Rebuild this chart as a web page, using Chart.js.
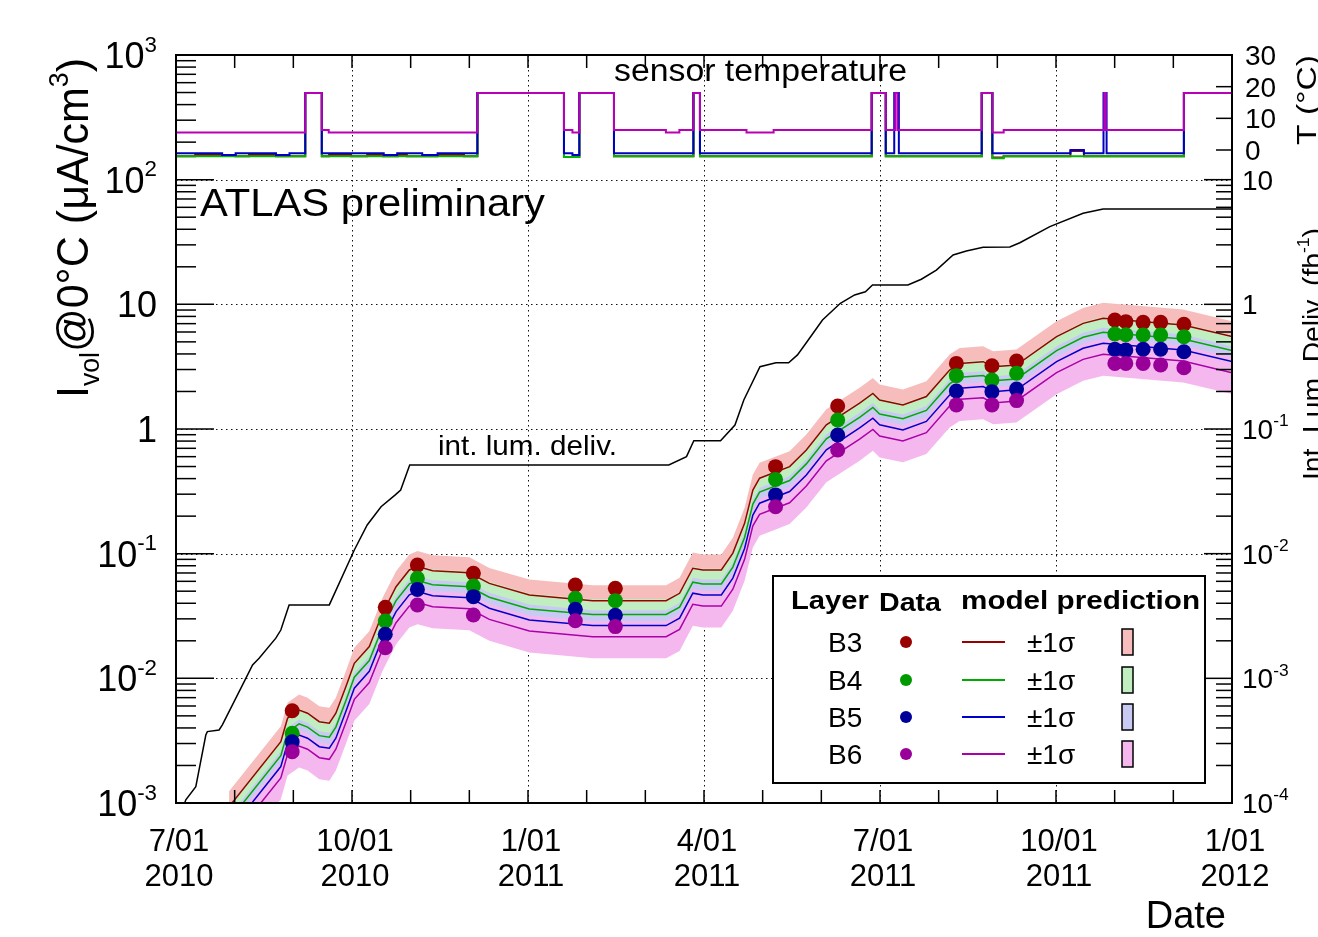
<!DOCTYPE html>
<html><head><meta charset="utf-8">
<script src="https://cdn.jsdelivr.net/npm/chart.js"></script>
<style>html,body{margin:0;padding:0;background:#fff;overflow:hidden}canvas{display:block}</style>
</head><body>
<canvas id="c" width="1318" height="937"></canvas>
<script>
// ---------------- data ----------------
// x values are days since 1 July 2010
const xMajorDays = [0, 91.5, 183, 274.5, 366, 457.5, 549];
const xTickLabels = [['7/01','2010'],['10/01','2010'],['1/01','2011'],['4/01','2011'],['7/01','2011'],['10/01','2011'],['1/01','2012']];
const layerNames = ['B3','B4','B5','B6'];

const modelDays = [27.6,54.5,58,64,68.4,74.5,79.7,83.1,88.3,92.7,100.5,107.4,114.4,121.3,125.6,133.4,152.5,162.9,183.7,216.6,254.8,261.8,268.7,273.9,283.5,289.5,295.6,299.9,303.4,319,327.7,338.1,355.4,362.3,365.8,377.9,390.1,402.2,407.4,419.6,424.8,436.9,457.8,471.6,482,523.6,549];
const modelB3 = [9.35e-4,3.10e-3,4.79e-3,5.57e-3,5.25e-3,4.49e-3,4.36e-3,5.25e-3,8.57e-3,0.0132,0.0180,0.0333,0.0543,0.0740,0.0787,0.0729,0.0703,0.0578,0.0466,0.0420,0.0420,0.0481,0.0764,0.0740,0.0740,0.101,0.175,0.324,0.403,0.499,0.679,1.08,1.61,1.93,1.71,1.56,1.82,2.97,3.36,3.47,3.16,3.26,5.50,7.04,7.73,6.82,5.51];
const modelB4 = [7.23e-4,2.40e-3,3.70e-3,4.31e-3,4.06e-3,3.47e-3,3.37e-3,4.06e-3,6.62e-3,0.0102,0.0139,0.0257,0.0420,0.0572,0.0608,0.0564,0.0543,0.0447,0.0360,0.0325,0.0325,0.0372,0.0591,0.0572,0.0572,0.0781,0.135,0.250,0.312,0.386,0.525,0.835,1.24,1.49,1.32,1.21,1.41,2.30,2.60,2.68,2.44,2.52,4.25,5.44,5.98,5.27,4.26];
const modelB5 = [5.90e-4,1.96e-3,3.02e-3,3.51e-3,3.31e-3,2.83e-3,2.75e-3,3.31e-3,5.41e-3,8.33e-3,0.0114,0.0210,0.0343,0.0467,0.0497,0.0460,0.0444,0.0365,0.0294,0.0265,0.0265,0.0304,0.0482,0.0467,0.0467,0.0637,0.110,0.204,0.254,0.315,0.428,0.681,1.02,1.22,1.08,0.984,1.15,1.87,2.12,2.19,1.99,2.06,3.47,4.44,4.88,4.30,3.48];
const modelB6 = [4.81e-4,1.59e-3,2.46e-3,2.86e-3,2.70e-3,2.31e-3,2.24e-3,2.70e-3,4.40e-3,6.78e-3,9.25e-3,0.0171,0.0279,0.0380,0.0405,0.0375,0.0361,0.0297,0.0240,0.0216,0.0216,0.0247,0.0393,0.0380,0.0380,0.0519,0.0900,0.167,0.207,0.256,0.349,0.555,0.828,0.992,0.879,0.802,0.935,1.53,1.73,1.78,1.62,1.68,2.83,3.62,3.97,3.51,2.83];

const bandB3Up = [1.24e-3,4.12e-3,6.37e-3,7.41e-3,6.98e-3,5.97e-3,5.80e-3,6.98e-3,0.0114,0.0176,0.0239,0.0443,0.0722,0.0984,0.105,0.0970,0.0935,0.0769,0.0620,0.0559,0.0559,0.0640,0.102,0.0984,0.0984,0.134,0.233,0.431,0.536,0.664,0.903,1.44,2.14,2.57,2.27,2.07,2.42,3.95,4.47,4.62,4.20,4.34,7.32,9.36,10.3,9.07,7.33];
const bandB3Lo = [6.29e-4,2.09e-3,3.22e-3,3.75e-3,3.53e-3,3.02e-3,2.93e-3,3.53e-3,5.77e-3,8.88e-3,0.0121,0.0224,0.0365,0.0498,0.0530,0.0491,0.0473,0.0389,0.0314,0.0283,0.0283,0.0324,0.0514,0.0498,0.0498,0.0680,0.118,0.218,0.271,0.336,0.457,0.727,1.08,1.30,1.15,1.05,1.22,2.00,2.26,2.34,2.13,2.19,3.70,4.74,5.20,4.59,3.71];
const bandB4Up = [9.61e-4,3.19e-3,4.92e-3,5.73e-3,5.40e-3,4.62e-3,4.48e-3,5.40e-3,8.81e-3,0.0136,0.0185,0.0342,0.0558,0.0761,0.0809,0.0749,0.0723,0.0594,0.0479,0.0432,0.0432,0.0494,0.0785,0.0761,0.0761,0.104,0.180,0.333,0.414,0.513,0.698,1.11,1.66,1.98,1.76,1.60,1.87,3.05,3.45,3.57,3.25,3.35,5.65,7.24,7.95,7.01,5.66];
const bandB4Lo = [4.86e-4,1.61e-3,2.49e-3,2.90e-3,2.73e-3,2.33e-3,2.27e-3,2.73e-3,4.46e-3,6.86e-3,9.36e-3,0.0173,0.0282,0.0385,0.0409,0.0379,0.0366,0.0301,0.0242,0.0218,0.0218,0.0250,0.0397,0.0385,0.0385,0.0525,0.0910,0.168,0.210,0.259,0.353,0.562,0.837,1.00,0.889,0.811,0.946,1.54,1.75,1.80,1.64,1.70,2.86,3.66,4.02,3.55,2.87];
const bandB5Up = [7.84e-4,2.60e-3,4.02e-3,4.67e-3,4.40e-3,3.77e-3,3.66e-3,4.40e-3,7.19e-3,0.0111,0.0151,0.0279,0.0456,0.0621,0.0660,0.0612,0.0590,0.0485,0.0391,0.0352,0.0352,0.0404,0.0641,0.0621,0.0621,0.0847,0.147,0.272,0.338,0.419,0.570,0.906,1.35,1.62,1.43,1.31,1.53,2.49,2.82,2.91,2.65,2.74,4.61,5.91,6.49,5.72,4.62];
const bandB5Lo = [3.97e-4,1.32e-3,2.04e-3,2.37e-3,2.23e-3,1.91e-3,1.85e-3,2.23e-3,3.64e-3,5.61e-3,7.65e-3,0.0142,0.0231,0.0315,0.0334,0.0310,0.0299,0.0246,0.0198,0.0179,0.0179,0.0204,0.0325,0.0315,0.0315,0.0429,0.0744,0.138,0.171,0.212,0.289,0.459,0.684,0.820,0.727,0.663,0.774,1.26,1.43,1.47,1.34,1.39,2.34,2.99,3.29,2.90,2.34];
const bandB6Up = [6.40e-4,2.12e-3,3.28e-3,3.81e-3,3.59e-3,3.07e-3,2.98e-3,3.59e-3,5.86e-3,9.03e-3,0.0123,0.0228,0.0371,0.0506,0.0538,0.0499,0.0481,0.0395,0.0319,0.0287,0.0287,0.0329,0.0523,0.0506,0.0506,0.0691,0.120,0.222,0.276,0.341,0.464,0.739,1.10,1.32,1.17,1.07,1.24,2.03,2.30,2.37,2.16,2.23,3.76,4.82,5.29,4.66,3.77];
const bandB6Lo = [3.24e-4,1.07e-3,1.66e-3,1.93e-3,1.82e-3,1.55e-3,1.51e-3,1.82e-3,2.97e-3,4.57e-3,6.23e-3,0.0115,0.0188,0.0256,0.0272,0.0252,0.0243,0.0200,0.0161,0.0145,0.0145,0.0166,0.0264,0.0256,0.0256,0.0349,0.0606,0.112,0.139,0.173,0.235,0.374,0.557,0.668,0.592,0.540,0.630,1.03,1.16,1.20,1.09,1.13,1.90,2.44,2.67,2.36,1.91];

const dataDays = [60.4,108.8,125.5,154.6,207.6,228.4,311.7,344,405.7,424.2,437,488.1,493.8,502.8,511.9,524];
const dataB3 = [5.5e-3,0.0371,0.081,0.0695,0.0561,0.0527,0.499,1.53,3.36,3.22,3.51,7.49,7.26,7.17,7.17,6.92];
const dataB4 = [3.62e-3,0.0288,0.0634,0.0551,0.0439,0.042,0.394,1.18,2.68,2.47,2.80,5.78,5.70,5.67,5.67,5.50];
const dataB5 = [3.10e-3,0.0226,0.0517,0.0452,0.0358,0.032,0.296,0.895,2.02,1.99,2.09,4.36,4.30,4.36,4.36,4.17];
const dataB6 = [2.58e-3,0.0176,0.0387,0.0322,0.029,0.026,0.238,0.679,1.56,1.56,1.69,3.36,3.36,3.36,3.26,3.10];

// integrated delivered luminosity (fb^-1), right axis
const lumDays = [3.2,5.1,10.3,15.5,16.3,22.4,24.1,36.3,39.8,43.2,51.9,54.5,58.8,79.7,92.7,99.4,106.6,114,116.8,121.5,256.2,265.4,269.2,283.1,290.6,295.2,303.6,311.9,318.5,323.1,328.7,336.1,345.4,352.8,358.4,362.1,380.5,387.5,395.3,404,410.9,419.6,433.5,438.7,454.3,471.6,482,549];
const lumValues = [8.8e-5,1.06e-4,1.35e-4,3.51e-4,3.74e-4,3.85e-4,4.23e-4,1.0e-3,1.28e-3,1.45e-3,2.10e-3,2.44e-3,3.88e-3,3.88e-3,0.0107,0.0170,0.0238,0.0296,0.0324,0.0514,0.0514,0.0600,0.0805,0.0805,0.1076,0.171,0.316,0.340,0.340,0.393,0.518,0.748,1.02,1.19,1.26,1.43,1.43,1.59,1.88,2.49,2.68,2.87,2.88,3.12,4.20,5.37,5.82,5.82];

// sensor temperature (deg C), step values
const tempB3Days = [0,10,31,38,52,67.2,75.8,79.6,91,99.4,107.7,115.3,120,135.8,149.7,156.7,201.7,209.7,227.7,269,272.4,361.7,369,418.9,424.4,430.3,465,472,524,549];
const tempB3 = [-2.0,-1.6,-2.0,-1.6,-2.0,18,-2.0,-1.6,-2.0,-1.6,-2.0,-1.6,-2.0,-1.6,-2.0,18,-2.2,18,-2.0,18,-2.0,18,-2.0,18,-2.4,-2.0,-0.3,-2.0,18,18];
const tempB4Days = [0,67.2,75.8,156.7,201.7,209.7,227.7,269,272.4,361.7,369,418.9,424.4,430.3,524,549];
const tempB4 = [-2.0,18,-2.0,18,-2.2,18,-2.0,18,-2.0,18,-2.0,18,-2.6,-2.0,18,18];
const tempB5Days = [0,24,31,52,59,67.2,75.8,108,115,128,136,156.7,201.7,206.1,209.7,227.7,269,272.4,361.7,369,373.4,375.8,418.9,424.4,465,472,482.2,483.8,524,549];
const tempB5 = [-1.0,-1.6,-1.0,-1.6,-1.0,18,-1.0,-1.6,-1.0,-1.6,-1.0,18,-1.0,-1.6,18,-1.0,18,-1.0,18,-1.0,18,-1.0,18,-1.0,0,-1.0,18,-1.0,18,18];
const tempB6Days = [0,67.2,75.8,79.4,156.7,201.7,206.1,209.7,227.7,254.7,261.7,269,272.4,296.6,310.7,361.7,369,373.9,375.1,418.9,424.4,430.3,482.6,483.4,524,549];
const tempB6 = [5.5,18,6.3,5.5,18,6.3,5.5,18,6.3,5.5,6.3,18,6.3,5.5,6.3,18,6.3,18,6.3,18,5.5,6.3,18,6.3,18,18];

// ---------------- styling ----------------
const FONT = '"Liberation Sans", Arial, Helvetica, sans-serif';
const style = {
  B3: { line:'#990000', dot:'#990000', band:'#f7bdbd', temp:'#990000' },
  B4: { line:'#00aa00', dot:'#009a00', band:'#c0eec0', temp:'#00b400' },
  B5: { line:'#0000cc', dot:'#000099', band:'#c9caf4', temp:'#0000c0' },
  B6: { line:'#aa00aa', dot:'#990099', band:'#f5b8ee', temp:'#b800b8' }
};
const pts = (xs, ys) => xs.map((x, i) => ({ x: x, y: ys[i] }));
const series = {
  B3: { model: modelB3, up: bandB3Up, lo: bandB3Lo, data: dataB3, td: tempB3Days, t: tempB3 },
  B4: { model: modelB4, up: bandB4Up, lo: bandB4Lo, data: dataB4, td: tempB4Days, t: tempB4 },
  B5: { model: modelB5, up: bandB5Up, lo: bandB5Lo, data: dataB5, td: tempB5Days, t: tempB5 },
  B6: { model: modelB6, up: bandB6Up, lo: bandB6Lo, data: dataB6, td: tempB6Days, t: tempB6 }
};
const none = 'rgba(0,0,0,0)';
const datasets = [];
layerNames.forEach((n, k) => {
  const s = series[n], c = style[n];
  datasets.push({ label: n + ' +1σ', data: pts(modelDays, s.up), yAxisID: 'y', fill: '+1', backgroundColor: c.band, borderColor: none, borderWidth: 1, pointRadius: 0, order: 100 - 2 * k });
  datasets.push({ label: n + ' -1σ', data: pts(modelDays, s.lo), yAxisID: 'y', fill: false, borderColor: none, borderWidth: 1, pointRadius: 0, order: 100 - 2 * k });
});
layerNames.forEach((n, k) => {
  datasets.push({ label: n + ' model', data: pts(modelDays, series[n].model), yAxisID: 'y', fill: false, borderColor: style[n].line, borderWidth: 1.5, pointRadius: 0, order: 60 - k });
});
datasets.push({ label: 'int. lum. deliv.', data: pts(lumDays, lumValues), yAxisID: 'yLum', fill: false, borderColor: '#000', borderWidth: 1.5, pointRadius: 0, order: 50 });
layerNames.forEach((n, k) => {
  datasets.push({ label: n + ' data', data: pts(dataDays, series[n].data), yAxisID: 'y', showLine: false, pointRadius: 7.5, pointBackgroundColor: style[n].dot, pointBorderWidth: 0, order: 40 - k });
});
layerNames.forEach((n, k) => {
  datasets.push({ label: n + ' T', data: pts(series[n].td, series[n].t), yAxisID: 'yT', stepped: true, fill: false, borderColor: style[n].temp, borderWidth: 2, pointRadius: 0, order: 30 - k });
});

// ---------------- text helpers ----------------
function rich(ctx, segs, x, y, size, o) {
  o = o || {};
  ctx.save();
  ctx.translate(x, y);
  if (o.rot) ctx.rotate(o.rot);
  const b = o.bold ? 'bold ' : '';
  let total = 0;
  const ws = segs.map(s => { ctx.font = b + (size * (s.s || 1)).toFixed(1) + 'px ' + FONT; const w = ctx.measureText(s.t).width; total += w; return w; });
  const sx = o.width ? o.width / total : (o.sx || 1);
  ctx.scale(sx, 1);
  let cx = o.align === 'right' ? -total : (o.align === 'center' ? -total / 2 : 0);
  ctx.fillStyle = o.color || '#000';
  ctx.textAlign = 'left'; ctx.textBaseline = 'alphabetic';
  segs.forEach((s, i) => { ctx.font = b + (size * (s.s || 1)).toFixed(1) + 'px ' + FONT; ctx.fillText(s.t, cx, (s.dy || 0) * size); cx += ws[i]; });
  ctx.restore();
}
function powSegs(e) {
  if (e === 0) return [{ t: '1' }];
  if (e === 1) return [{ t: '10' }];
  return [{ t: '10' }, { t: String(e), s: 0.62, dy: -0.45 }];
}
function seg(ctx, x1, y1, x2, y2) { ctx.beginPath(); ctx.moveTo(x1, y1); ctx.lineTo(x2, y2); ctx.stroke(); }

const decor = {
  id: 'decor',
  beforeDatasetsDraw(chart) {
    const { ctx, chartArea: a, scales } = chart;
    ctx.save();
    ctx.strokeStyle = '#111'; ctx.lineWidth = 1; ctx.setLineDash([1.5, 3.5]);
    xMajorDays.slice(1, -1).forEach(d => { const x = Math.round(scales.x.getPixelForValue(d)) + 0.5; seg(ctx, x, a.top, x, a.bottom); });
    [1e-2, 1e-1, 1, 10, 100].forEach(v => { const y = Math.round(scales.y.getPixelForValue(v)) + 0.5; seg(ctx, a.left, y, a.right, y); });
    ctx.restore();
  },
  afterDatasetsDraw(chart) {
    const { ctx, chartArea: a, scales } = chart;
    ctx.save();
    ctx.strokeStyle = '#000'; ctx.lineWidth = 1.5;
    for (let e = -3; e <= 2; e++) for (let m = 1; m <= 9; m++) {
      const y = scales.y.getPixelForValue(m * Math.pow(10, e));
      seg(ctx, a.left, y, a.left + (m === 1 ? 38 : 20), y);
    }
    for (let e = -4; e <= 1; e++) for (let m = 1; m <= 9; m++) {
      const v = m * Math.pow(10, e); if (v > 10.0001) continue;
      const y = scales.yLum.getPixelForValue(v);
      seg(ctx, a.right - (m === 1 ? 28 : 16), y, a.right, y);
    }
    [0, 10, 20].forEach(t => { const y = scales.yT.getPixelForValue(t); seg(ctx, a.right - 16, y, a.right, y); });
    for (let i = 0; i <= 18; i++) {
      const x = scales.x.getPixelForValue(i * 30.5);
      seg(ctx, x, a.bottom, x, a.bottom - 13);
      seg(ctx, x, a.top, x, a.top + 13);
    }
    ctx.lineWidth = 2;
    ctx.strokeRect(a.left, a.top, a.right - a.left, a.bottom - a.top);
    ctx.restore();
  },
  afterDraw(chart) {
    const { ctx, chartArea: a, scales } = chart;
    for (let e = -3; e <= 3; e++) {
      const y = scales.y.getPixelForValue(Math.pow(10, e));
      rich(ctx, powSegs(e), 157, y + 13, 36, { align: 'right' });
    }
    for (let e = -4; e <= 1; e++) {
      const y = scales.yLum.getPixelForValue(Math.pow(10, e));
      rich(ctx, powSegs(e), 1242, y + 10, 28, {});
    }
    [0, 10, 20, 30].forEach(t => { const y = scales.yT.getPixelForValue(t); rich(ctx, [{ t: String(t) }], 1245, y + 10, 28, {}); });
    xMajorDays.forEach((d, i) => {
      const x = scales.x.getPixelForValue(d) + 3;
      rich(ctx, [{ t: xTickLabels[i][0] }], x, 851, 31, { align: 'center' });
      rich(ctx, [{ t: xTickLabels[i][1] }], x, 886, 31, { align: 'center' });
    });
    rich(ctx, [{ t: 'Date' }], 1226, 928, 38, { align: 'right' });
    rich(ctx, [{ t: 'I' }, { t: 'vol', s: 0.62, dy: 0.25 }, { t: '@0' }, { t: '°' }, { t: 'C (μA/cm' }, { t: '3', s: 0.62, dy: -0.45 }, { t: ')' }], 88, 58, 44, { rot: -Math.PI / 2, align: 'right', width: 340 });
    rich(ctx, [{ t: 'Int. Lum. Deliv. (fb' }, { t: '-1', s: 0.62, dy: -0.45 }, { t: ')' }], 1322, 480, 28, { rot: -Math.PI / 2, width: 252 });
    rich(ctx, [{ t: 'T (°C)' }], 1316, 145, 28, { rot: -Math.PI / 2, width: 90 });
    rich(ctx, [{ t: 'ATLAS preliminary' }], 200, 216, 39, { width: 345 });
    rich(ctx, [{ t: 'sensor temperature' }], 614, 81, 31, { width: 293 });
    rich(ctx, [{ t: 'int. lum. deliv.' }], 438, 455, 28, { width: 179 });
    ctx.save();
    ctx.fillStyle = '#fff'; ctx.fillRect(773, 576, 432, 207);
    ctx.strokeStyle = '#000'; ctx.lineWidth = 2; ctx.strokeRect(773, 576, 432, 207);
    ctx.restore();
    rich(ctx, [{ t: 'Layer' }], 791, 609, 25, { bold: true, width: 78 });
    rich(ctx, [{ t: 'Data' }], 879, 611, 25, { bold: true, width: 62 });
    rich(ctx, [{ t: 'model prediction' }], 961, 609, 25, { bold: true, width: 239 });
    const rows = [642, 680, 717, 754];
    layerNames.forEach((n, k) => {
      const cy = rows[k], c = style[n];
      rich(ctx, [{ t: n }], 828, cy + 10, 28, {});
      ctx.save();
      ctx.fillStyle = c.dot; ctx.beginPath(); ctx.arc(906, cy, 6, 0, Math.PI * 2); ctx.fill();
      ctx.strokeStyle = c.line; ctx.lineWidth = 2; seg(ctx, 962, cy, 1005, cy);
      ctx.fillStyle = c.band; ctx.fillRect(1122, cy - 13, 11, 26);
      ctx.strokeStyle = '#000'; ctx.lineWidth = 1.5; ctx.strokeRect(1122, cy - 13, 11, 26);
      ctx.restore();
      rich(ctx, [{ t: '±1σ' }], 1027, cy + 10, 28, {});
    });
  }
};

new Chart(document.getElementById('c'), {
  type: 'line',
  data: { datasets: datasets },
  options: {
    responsive: false, animation: false, devicePixelRatio: 1,
    layout: { padding: { left: 176, right: 1318 - 1232, top: 55, bottom: 937 - 803 } },
    plugins: { legend: { display: false }, tooltip: { enabled: false }, filler: { propagate: false } },
    elements: { line: { tension: 0 } },
    scales: {
      x: { type: 'linear', min: 0, max: 549, display: false },
      y: { type: 'logarithmic', min: 1e-3, max: 1e3, display: false },
      yLum: { type: 'logarithmic', min: 1e-4, max: 1e2, display: false },
      yT: { type: 'linear', min: -206.2, max: 30, display: false }
    }
  },
  plugins: [decor]
});
</script>
</body></html>
